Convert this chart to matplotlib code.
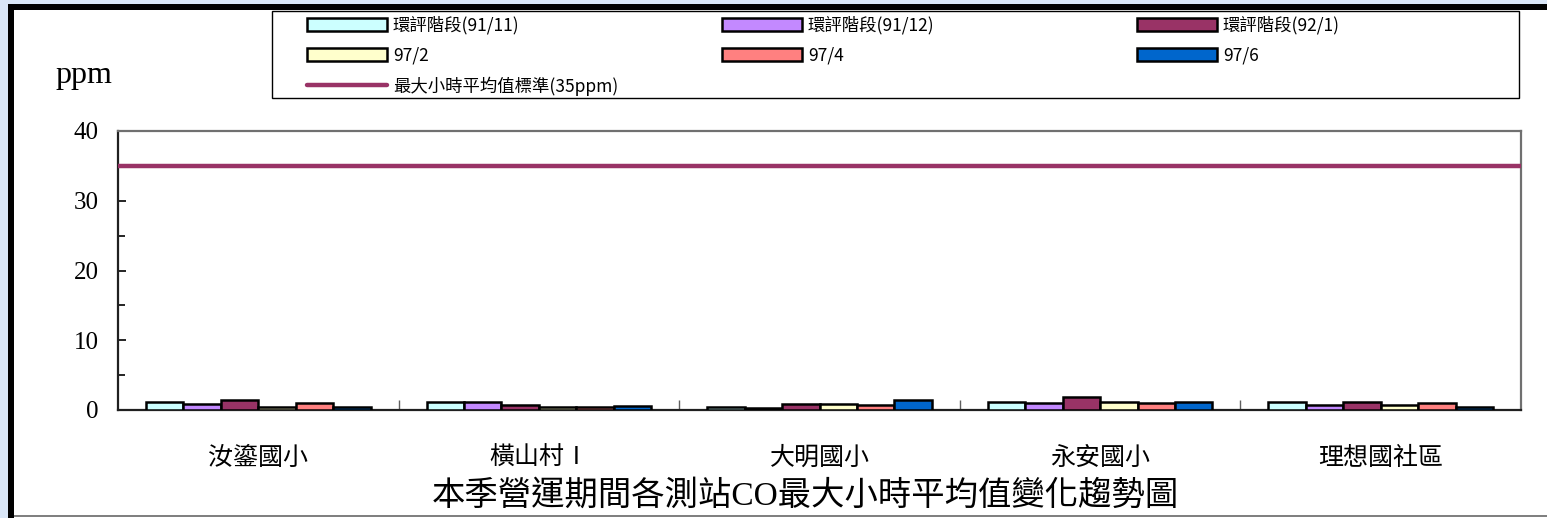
import matplotlib
matplotlib.use("Agg")
import matplotlib.pyplot as plt
from matplotlib.patches import Rectangle
from matplotlib.lines import Line2D
import numpy as np

categories = ["汝鎏國小", "橫山村Ⅰ", "大明國小", "永安國小", "理想國社區"]
series_names = ["環評階段(91/11)", "環評階段(91/12)", "環評階段(92/1)", "97/2", "97/4", "97/6"]
s_91_11 = [1.2, 1.2, 0.5, 1.2, 1.15]
s_91_12 = [0.85, 1.2, 0.3, 1.0, 0.7]
s_92_1 = [1.5, 0.7, 0.85, 1.8, 1.2]
s_97_2 = [0.5, 0.4, 0.85, 1.1, 0.7]
s_97_4 = [1.0, 0.4, 0.75, 1.05, 1.0]
s_97_6 = [0.4, 0.6, 1.4, 1.15, 0.5]
standard_value = 35
standard_label = "最大小時平均值標準(35ppm)"
y_ticks = [0, 10, 20, 30, 40]
title = "本季營運期間各測站CO最大小時平均值變化趨勢圖"
y_unit = "ppm"

colors = ["#CCFFFF", "#C389FF", "#993366", "#FFFFCC", "#FF8080", "#0066CC"]
line_color = "#993366"

SERIF = ["Liberation Serif", "Noto Sans CJK TC"]
plt.rcParams['font.family'] = SERIF

W, H = 1547, 518
fig = plt.figure(figsize=(W / 100, H / 100), dpi=100)
fig.patch.set_facecolor("white")

# frame decoration
def px_rect(x0, y0, x1, y1, color, edge="none", lw=0, z=0):
    r = Rectangle((x0 / W, 1 - y1 / H), (x1 - x0) / W, (y1 - y0) / H,
                  transform=fig.transFigure, facecolor=color,
                  edgecolor=edge, linewidth=lw, zorder=z)
    fig.patches.append(r)
px_rect(0, 0, W, 4, "#D9E6F7")
px_rect(0, 0, 8, H, "#D9E6F7")
px_rect(8, 4, W, 10, "black")
px_rect(8, 4, 14, H, "black")
px_rect(14, 515, W, 517, "#808080")
# legend frame
px_rect(272, 10.5, 1519, 98, "white", edge="black", lw=1.0, z=1)

ax = fig.add_axes([118 / W, 1 - 410 / H, (1521 - 118) / W, (410 - 131) / H])
ax.set_facecolor("white")

all_series = [s_91_11, s_91_12, s_92_1, s_97_2, s_97_4, s_97_6]
n = len(all_series)
w = 0.8 / n
x = np.arange(len(categories))
handles = []
for j, (vals, name, c) in enumerate(zip(all_series, series_names, colors)):
    b = ax.bar(x + (j - (n - 1) / 2) * w, vals, width=w, color=c, edgecolor="black",
               linewidth=1.8, label=name, zorder=3)
    handles.append(b)

ax.axhline(standard_value, color=line_color, linewidth=3.2, zorder=4)
line_handle = Line2D([0], [0], color=line_color, linewidth=3.2, solid_capstyle="round")

ax.set_xlim(-0.5, len(categories) - 0.5)
ax.set_ylim(0, 40)
ax.set_yticks(y_ticks)
ax.set_yticks([5, 15, 25, 35], minor=True)
ax.set_xticks(x)
ax.set_xticklabels(categories, fontsize=18, family=["Noto Sans CJK TC"])
ax.set_xticks(np.arange(len(categories) - 1) + 0.5, minor=True)
ax.tick_params(axis="x", which="major", length=0, pad=25)
ax.tick_params(axis="x", which="minor", direction="in", length=7, width=1, color="#606060")
ax.tick_params(axis="y", which="major", direction="in", length=6, width=1.2, labelsize=18, pad=14)
ax.tick_params(axis="y", which="minor", direction="in", length=5, width=1.2)

for side in ["left", "bottom"]:
    ax.spines[side].set_color("#202020")
    ax.spines[side].set_linewidth(1.6)
for side in ["top", "right"]:
    ax.spines[side].set_color("#707070")
    ax.spines[side].set_linewidth(1.6)

fig.text(55 / W, 1 - 75 / H, y_unit, fontsize=23, ha="left", va="center")
fig.text(805 / W, 1 - 496 / H, title, fontsize=24, ha="center", va="center")

# legend: three columns placed at the reference positions
columns = [
    ([handles[0], handles[3], line_handle], [series_names[0], series_names[3], standard_label], 307),
    ([handles[1], handles[4]], [series_names[1], series_names[4]], 722),
    ([handles[2], handles[5]], [series_names[2], series_names[5]], 1137),
]
for hs, ls, x0 in columns:
    leg = fig.legend(hs, ls, loc="upper left", bbox_to_anchor=(x0 / W, 1 - 16 / H),
                     frameon=False, handlelength=4.6, handleheight=0.75,
                     handletextpad=0.35, labelspacing=0.68, borderaxespad=0,
                     borderpad=0, prop={"family": ["Noto Sans CJK TC"], "size": 12.5})
    leg.set_zorder(5)

fig.savefig("out.png", dpi=100, facecolor=fig.get_facecolor())
